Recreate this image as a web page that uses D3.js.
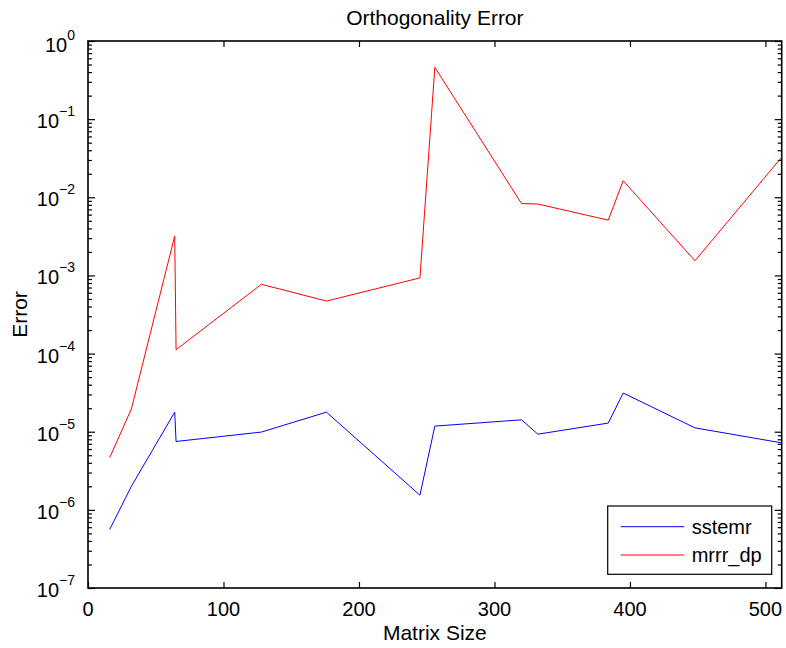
<!DOCTYPE html>
<html>
    <head>
        <meta charset="utf-8">
        <title>Orthogonality Error</title>
        <script src="https://d3js.org/d3.v7.min.js"></script>
        <style>
            body {
                margin: 0;
                background: white;
                font-family: "Liberation Sans", Arial, sans-serif;
            }
            .axis path, .axis line {
                stroke: black;
                stroke-width: 1.2px;
            }
        </style>
    </head>
    <body>
        <svg id="chart" width="786" height="648"></svg>

        <script>
            // data
            let matrixSizes = [16, 32, 64, 65, 128, 176, 245, 256, 320, 332, 384, 395, 448, 512]
            let sstemrErr = [5.6e-7, 2.0e-6, 1.78e-5, 7.5e-6, 9.9e-6, 1.78e-5, 1.54e-6, 1.18e-5, 1.42e-5, 9.3e-6, 1.29e-5, 3.13e-5, 1.12e-5, 7.2e-6]
            let mrrrErr = [4.65e-6, 1.95e-5, 3.2e-3, 1.12e-4, 7.7e-4, 4.7e-4, 9.3e-4, 0.46, 8.3e-3, 8.2e-3, 5.1e-3, 1.63e-2, 1.54e-3, 3.26e-2]
            let xTicks = [0, 100, 200, 300, 400, 500]
            let yExponents = [0, -1, -2, -3, -4, -5, -6, -7]
            let seriesNames = ["sstemr", "mrrr_dp"]
            let seriesColors = ["#0000ff", "#ff0000"]

            let svg = d3.select("#chart")
            let pLeft = 88, pRight = 781.7, pTop = 41, pBottom = 588

            let x = d3.scaleLinear().domain([0, 512]).range([pLeft, pRight])
            let y = d3.scaleLog().domain([1e-7, 1]).range([pBottom, pTop])

            // minor log ticks 2..9 per decade
            let minorTicks = []
            for (let e = -7; e < 0; e++) {
                for (let m = 2; m <= 9; m++) minorTicks.push(m * Math.pow(10, e))
            }
            let majorY = yExponents.map(e => Math.pow(10, e))

            // box
            svg.append("rect")
                .attr("x", pLeft).attr("y", pTop)
                .attr("width", pRight - pLeft).attr("height", pBottom - pTop)
                .attr("fill", "white").attr("stroke", "black").attr("stroke-width", 1.6)

            function drawAxis(gen, tx, ty) {
                let g = svg.append("g").attr("class", "axis")
                    .attr("transform", "translate(" + tx + "," + ty + ")")
                    .call(gen)
                g.select(".domain").remove()
                g.selectAll("text").remove()
                return g
            }

            // x ticks (inward, bottom and top)
            drawAxis(d3.axisBottom(x).tickValues(xTicks).tickSize(-6), 0, pBottom)
            drawAxis(d3.axisTop(x).tickValues(xTicks).tickSize(-6), 0, pTop)
            // y ticks (inward, left and right)
            drawAxis(d3.axisLeft(y).tickValues(majorY).tickSize(-7), pLeft, 0)
            drawAxis(d3.axisRight(y).tickValues(majorY).tickSize(-7), pRight, 0)
            drawAxis(d3.axisLeft(y).tickValues(minorTicks).tickSize(-4), pLeft, 0)
            drawAxis(d3.axisRight(y).tickValues(minorTicks).tickSize(-4), pRight, 0)

            // x tick labels
            svg.append("g").selectAll("text")
                .data(xTicks)
                .enter()
                .append("text")
                .attr("x", d => x(d))
                .attr("y", 616)
                .attr("text-anchor", "middle")
                .attr("font-size", "20px")
                .text(d => d)

            // y tick labels 10^e
            let yl = svg.append("g").selectAll("text")
                .data(yExponents)
                .enter()
                .append("text")
                .attr("x", 75)
                .attr("y", d => y(Math.pow(10, d)) + (d === 0 ? 11 : 9))
                .attr("text-anchor", "end")
                .attr("font-size", "20px")
            yl.append("tspan").text("10")
            yl.append("tspan")
                .attr("dy", -12)
                .attr("font-size", "14px")
                .text(d => d === 0 ? "0" : "\u2212" + (-d))

            // lines
            let line = d3.line()
                .x((d, i) => x(matrixSizes[i]))
                .y(d => y(d))
            let series = [sstemrErr, mrrrErr]
            svg.append("g").selectAll("path")
                .data(series)
                .enter()
                .append("path")
                .attr("d", line)
                .attr("fill", "none")
                .attr("stroke", (d, i) => seriesColors[i])
                .attr("stroke-width", 1)

            // title and axis labels
            svg.append("text")
                .attr("x", (pLeft + pRight) / 2).attr("y", 25)
                .attr("text-anchor", "middle").attr("font-size", "21px")
                .text("Orthogonality Error")
            svg.append("text")
                .attr("x", (pLeft + pRight) / 2).attr("y", 640)
                .attr("text-anchor", "middle").attr("font-size", "21px")
                .text("Matrix Size")
            svg.append("text")
                .attr("transform", "translate(27," + ((pTop + pBottom) / 2) + ") rotate(-90)")
                .attr("text-anchor", "middle").attr("font-size", "21px")
                .text("Error")

            // legend
            let legend = svg.append("g")
            legend.append("rect")
                .attr("x", 607.7).attr("y", 506)
                .attr("width", 164).attr("height", 68.3)
                .attr("fill", "white").attr("stroke", "black").attr("stroke-width", 1.2)
            let items = legend.selectAll(".item")
                .data(seriesNames)
                .enter()
                .append("g")
                .attr("class", "item")
                .attr("transform", (d, i) => "translate(0," + (526.7 + i * 28.3) + ")")
            items.append("line")
                .attr("x1", 620.7).attr("x2", 684.3)
                .attr("stroke", (d, i) => seriesColors[i])
                .attr("stroke-width", 1)
            items.append("text")
                .attr("x", 691.7).attr("y", 7)
                .attr("font-size", "20px")
                .text(d => d)
        </script>
    </body>
</html>
